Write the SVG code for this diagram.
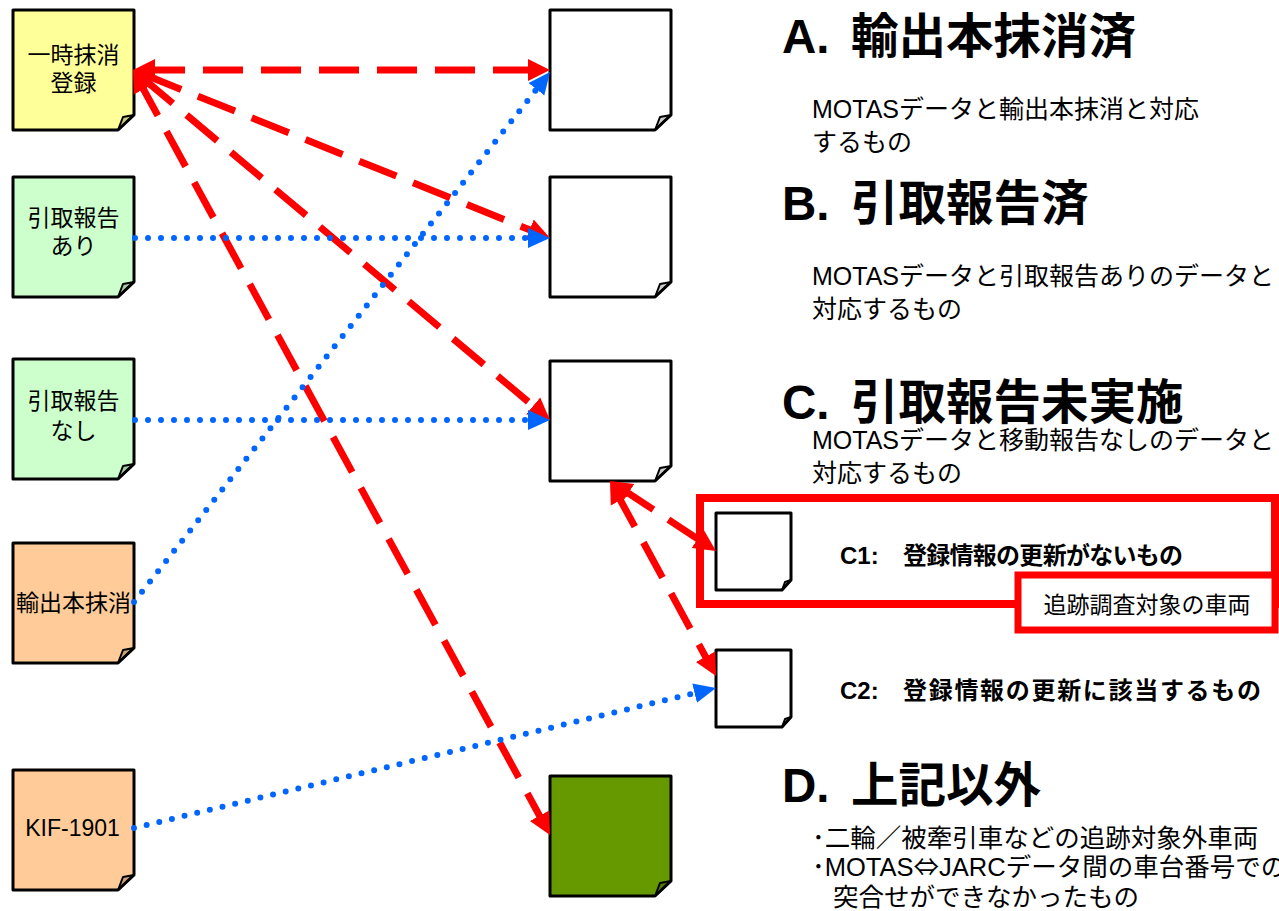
<svg xmlns="http://www.w3.org/2000/svg" width="1279" height="911" viewBox="0 0 1279 911">
<defs>
<style>
text{font-family:"Liberation Sans","Noto Sans CJK JP",sans-serif;fill:#000}
.cjk{font-family:"Noto Sans CJK JP",sans-serif}
.note{stroke:#000;stroke-width:3;stroke-linejoin:round}
.fold{fill:#000;fill-opacity:0.2;stroke:#000;stroke-width:2;stroke-linejoin:round}
.lbl{font-size:23px;text-anchor:middle}
.head{font-size:47.5px;font-weight:bold}
.body{font-size:25px}
.bodyd{font-size:25.5px}
.sub{font-size:24px;font-weight:bold}
.red{fill:none;stroke:#FF0000;stroke-width:7;stroke-dasharray:40 18}
.blue{fill:none;stroke:#0066FF;stroke-width:6;stroke-dasharray:0 13;stroke-linecap:round}
</style>
<marker id="ra" markerUnits="userSpaceOnUse" markerWidth="24" markerHeight="24" refX="10" refY="0" viewBox="0 -12 24 24" orient="auto-start-reverse"><path d="M0,-11 L22,0 L0,11 Z" fill="#FF0000"/></marker>
<marker id="ba" markerUnits="userSpaceOnUse" markerWidth="24" markerHeight="24" refX="10" refY="0" viewBox="0 -12 24 24" orient="auto"><path d="M0,-10 L22,0 L0,10 Z" fill="#0066FF"/></marker>
<path id="big" d="M0,0 H121 V105 L105,120 H0 Z"/>
<path id="bigfold" d="M105,120 L110,107 L121,105 Z"/>
<path id="small" d="M0,0 H75 V67 L66,77 H0 Z"/>
<path id="smallfold" d="M66,77 L69,69 L75,67 Z"/>
</defs>
<rect width="1279" height="911" fill="#fff"/>

<g id="n-ichiji">
<use href="#big" x="13" y="10" class="note" fill="#FFFF99"/><use href="#bigfold" x="13" y="10" class="fold"/>
<text class="lbl" x="73.5" y="63">一時抹消</text><text class="lbl" x="73.5" y="91">登録</text>
</g>
<g id="n-hikitori-ari">
<use href="#big" x="13" y="177" class="note" fill="#CCFFCC"/><use href="#bigfold" x="13" y="177" class="fold"/>
<text class="lbl" x="73.5" y="226">引取報告</text><text class="lbl" x="73.5" y="254">あり</text>
</g>
<g id="n-hikitori-nashi">
<use href="#big" x="13" y="359" class="note" fill="#CCFFCC"/><use href="#bigfold" x="13" y="359" class="fold"/>
<text class="lbl" x="73.5" y="409">引取報告</text><text class="lbl" x="73.5" y="439">なし</text>
</g>
<g id="n-yushutsu">
<use href="#big" x="13" y="543" class="note" fill="#FFCC99"/><use href="#bigfold" x="13" y="543" class="fold"/>
<text class="lbl" x="73.5" y="611">輸出本抹消</text>
</g>
<g id="n-kif">
<use href="#big" x="13" y="770" class="note" fill="#FFCC99"/><use href="#bigfold" x="13" y="770" class="fold"/>
<text class="lbl" x="72.5" y="836">KIF-1901</text>
</g>

<g id="n-a">
<use href="#big" x="550" y="10" class="note" fill="#FFFFFF"/><use href="#bigfold" x="550" y="10" class="fold"/>
</g>
<g id="n-b">
<use href="#big" x="550" y="177" class="note" fill="#FFFFFF"/><use href="#bigfold" x="550" y="177" class="fold"/>
</g>
<g id="n-c">
<use href="#big" x="550" y="361" class="note" fill="#FFFFFF"/><use href="#bigfold" x="550" y="361" class="fold"/>
</g>
<g id="n-d">
<use href="#big" x="550" y="776" class="note" fill="#669900"/><use href="#bigfold" x="550" y="776" class="fold"/>
</g>

<g id="frame-c1">
<rect x="700" y="498" width="575" height="106" fill="none" stroke="#FF0000" stroke-width="8"/>
</g>
<g id="n-c1">
<use href="#small" x="716" y="513" class="note" fill="#FFFFFF"/><use href="#smallfold" x="716" y="513" class="fold"/>
</g>
<g id="n-c2">
<use href="#small" x="716" y="650" class="note" fill="#FFFFFF"/><use href="#smallfold" x="716" y="650" class="fold"/>
</g>
<g id="tag">
<rect x="1018" y="575" width="257" height="55" fill="#FFFFFF" stroke="#FF0000" stroke-width="7"/>
<text x="1147" y="613" font-size="23" text-anchor="middle">追跡調査対象の車両</text>
</g>

<g id="texts">
<text class="head" x="782" y="53">A.<tspan x="851">輸出本抹消済</tspan></text>
<text class="body" x="812" y="118">MOTASデータと輸出本抹消と対応</text>
<text class="body" x="812" y="151">するもの</text>
<text class="head" x="782" y="220">B.<tspan x="851">引取報告済</tspan></text>
<text class="body" x="812" y="285">MOTASデータと引取報告ありのデータと</text>
<text class="body" x="812" y="318">対応するもの</text>
<text class="head" x="782" y="419">C.<tspan x="851">引取報告未実施</tspan></text>
<text class="body" x="812" y="449">MOTASデータと移動報告なしのデータと</text>
<text class="body" x="812" y="482">対応するもの</text>
<text class="sub" x="840" y="564">C1:</text>
<text class="sub" x="903" y="564" textLength="280" lengthAdjust="spacing">登録情報の更新がないもの</text>
<text class="sub" x="840" y="699">C2:</text>
<text class="sub" x="903" y="699" textLength="358" lengthAdjust="spacing">登録情報の更新に該当するもの</text>
<text class="head" x="782" y="802">D.<tspan x="851">上記以外</tspan></text>
<text class="bodyd" x="812" y="847">･二輪／被牽引車などの追跡対象外車両</text>
<text class="bodyd" x="812" y="876">･MOTAS<tspan class="cjk">⇔</tspan>JARCデータ間の車台番号での</text>
<text class="bodyd" x="833" y="906">突合せができなかったもの</text>
</g>

<g id="connectors">
<path class="red" d="M145,70 L538,70" marker-start="url(#ra)" marker-end="url(#ra)"/>
<path class="red" d="M144.1,74.5 L538.9,233.5" marker-start="url(#ra)" marker-end="url(#ra)"/>
<path class="red" d="M142.2,77.7 L540.8,412.3" marker-start="url(#ra)" marker-end="url(#ra)"/>
<path class="red" d="M138.7,80.5 L544.3,824.5" marker-start="url(#ra)" marker-end="url(#ra)"/>
<path class="red" d="M620,487.6 L706,544.4" marker-start="url(#ra)" marker-end="url(#ra)"/>
<path class="red" d="M615.7,491.5 L710.3,665.5" marker-start="url(#ra)" marker-end="url(#ra)"/>
<path class="blue" d="M135,238 L538,238" marker-end="url(#ba)"/>
<path class="blue" d="M135,420 L538,420" marker-end="url(#ba)"/>
<path class="blue" d="M134,602 L542.6,81.4" marker-end="url(#ba)"/>
<path class="blue" d="M134,828 L704.3,690.8" marker-end="url(#ba)"/>
</g>
</svg>
